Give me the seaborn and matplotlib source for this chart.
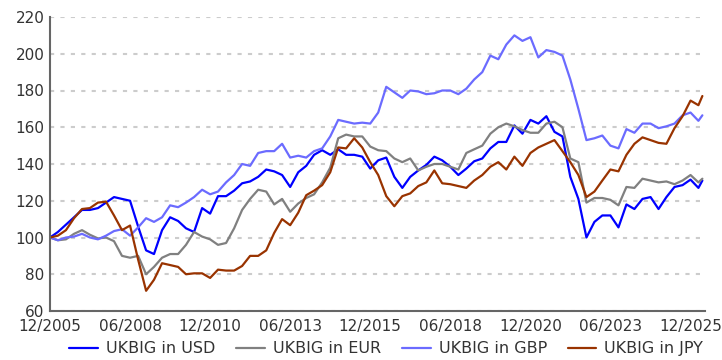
import matplotlib
matplotlib.use("Agg")
import matplotlib.pyplot as plt
import numpy as np
import pandas as pd
import seaborn as sns

# Quarterly observations from 12/2005, plus the latest reading
dates = list(pd.date_range("2005-12-01", periods=82, freq="3MS")) + [pd.Timestamp("2026-04-15")]

usd = [100, 103, 107, 111, 115, 115, 116, 119, 122, 121,
       120, 106, 93, 91, 104, 111, 109, 105, 103, 116,
       113, 122.5, 122.5, 125.5, 129.5, 130.5, 133, 137, 136, 134,
       127.5, 135.5, 139, 145, 147.5, 145, 148, 145, 145, 144,
       137.5, 142, 143.5, 133, 127, 133, 136.5, 139.5, 144, 142,
       138.5, 134, 137.5, 141.5, 143, 148.5, 152, 152, 161, 156.5,
       164, 162, 166, 157.5, 155, 133, 121, 100, 108.5, 112,
       112, 105.5, 118, 115.5, 121, 122, 115.5, 122, 127.5, 128.5,
       131.5, 127, 131]

eur = [100, 98.5, 99, 102, 104, 101.5, 99.5, 100, 98, 90,
       89, 90, 80, 84, 89, 91, 91, 96, 103, 100.5,
       99, 96, 97, 105, 115, 121, 126, 125, 118, 121,
       114, 118.5, 121.5, 123.5, 130, 138, 154, 156, 155, 155,
       149.5, 147.5, 147, 143, 141, 143, 136.5, 138.5, 140, 140,
       138.5, 137, 146, 148, 150, 156.5, 160, 162, 160.5, 158.5,
       157, 157, 162, 163, 160, 143, 141, 119, 121.5, 121.5,
       120.5, 117.5, 127.5, 127, 132, 131, 130, 130.5, 129, 131,
       134, 130, 132]

gbp = [100, 98.5, 100, 100.5, 102, 100, 99, 101, 103.5, 104.5,
       101, 105.5, 110.5, 108.5, 111, 117.5, 116.5, 119, 122, 126,
       123.5, 125, 130, 134, 140, 139, 146, 147, 147, 151,
       143.5, 144.5, 143.5, 147, 148.5, 155, 164, 163, 162, 162.5,
       162, 168, 182, 179, 176, 180, 179.5, 178, 178.5, 180,
       180, 178, 181, 186, 190, 199, 197, 205, 210, 207,
       209, 198, 202, 201, 199, 186, 170, 153, 154, 155.5,
       150, 148.5, 159, 157, 162, 162, 159.5, 160.5, 162, 166.5,
       168, 163.5, 166.5]

jpy = [100, 101, 104, 110.5, 115.5, 116, 119, 119.5, 112, 104,
       106.5, 88, 71, 77, 86, 85, 84, 80, 80.5, 80.5,
       78, 82.5, 82, 82, 84.5, 90, 90, 93, 102.5, 110,
       106.7, 113.5, 123, 125.5, 128.5, 135.5, 149, 148.5, 154, 149,
       141, 134, 122.5, 117, 122.5, 124, 128, 130, 136.5, 129.5,
       129, 128, 127, 131, 134, 138.5, 141, 137, 144, 139,
       146, 149, 151, 153, 147, 141, 134, 122, 125, 131,
       137, 136, 145, 151, 154.5, 153, 151.5, 151, 159.5, 166,
       174.5, 172, 177]

series_names = ["UKBIG in USD", "UKBIG in EUR", "UKBIG in GBP", "UKBIG in JPY"]
colors = ["#0000ff", "#808080", "#6b6bff", "#993300"]

y_ticks = [60, 80, 100, 120, 140, 160, 180, 200, 220]
x_tick_dates = pd.date_range("2005-12-01", "2025-12-01", freq="30MS")

df = pd.concat(
    [pd.DataFrame({"date": dates, "value": vals, "series": name})
     for name, vals in zip(series_names, [usd, eur, gbp, jpy])],
    ignore_index=True,
)

sns.set_style("white")
plt.rcParams["font.family"] = ["DejaVu Sans"]

fig = plt.figure(figsize=(7.22, 3.6), dpi=100)
ax = fig.add_axes([50 / 722, 1 - 311 / 360, 655 / 722, 294 / 360])

sns.lineplot(
    data=df, x="date", y="value", hue="series",
    palette=dict(zip(series_names, colors)),
    hue_order=series_names, linewidth=1.6, ax=ax, legend=True,
)

ax.set_xlim(pd.Timestamp("2005-12-01"), pd.Timestamp("2026-05-15"))
ax.set_ylim(60, 220)
ax.set_yticks(y_ticks)
ax.set_xticks(x_tick_dates)
ax.set_xticklabels([d.strftime("%m/%Y") for d in x_tick_dates])
ax.set_xlabel("")
ax.set_ylabel("")

ax.yaxis.grid(True, color="#cccccc", linestyle=(0, (2, 3)), linewidth=1.5)
ax.xaxis.grid(False)
ax.set_axisbelow(True)

for side in ["top", "right"]:
    ax.spines[side].set_visible(False)
for side in ["left", "bottom"]:
    ax.spines[side].set_color("#666666")
    ax.spines[side].set_linewidth(1.5)

ax.tick_params(axis="both", length=0, labelsize=11, labelcolor="#333333")
ax.tick_params(axis="x", pad=6)
ax.tick_params(axis="y", pad=4)

handles, labels = ax.get_legend_handles_labels()
ax.get_legend().remove()
fig.legend(
    handles, labels, loc="lower center", bbox_to_anchor=(0.535, -0.03),
    ncol=4, frameon=False, fontsize=11.5, handlelength=1.8,
    handletextpad=0.5, columnspacing=1.3, labelcolor="#333333",
)

fig.savefig("out.png", dpi=100)
